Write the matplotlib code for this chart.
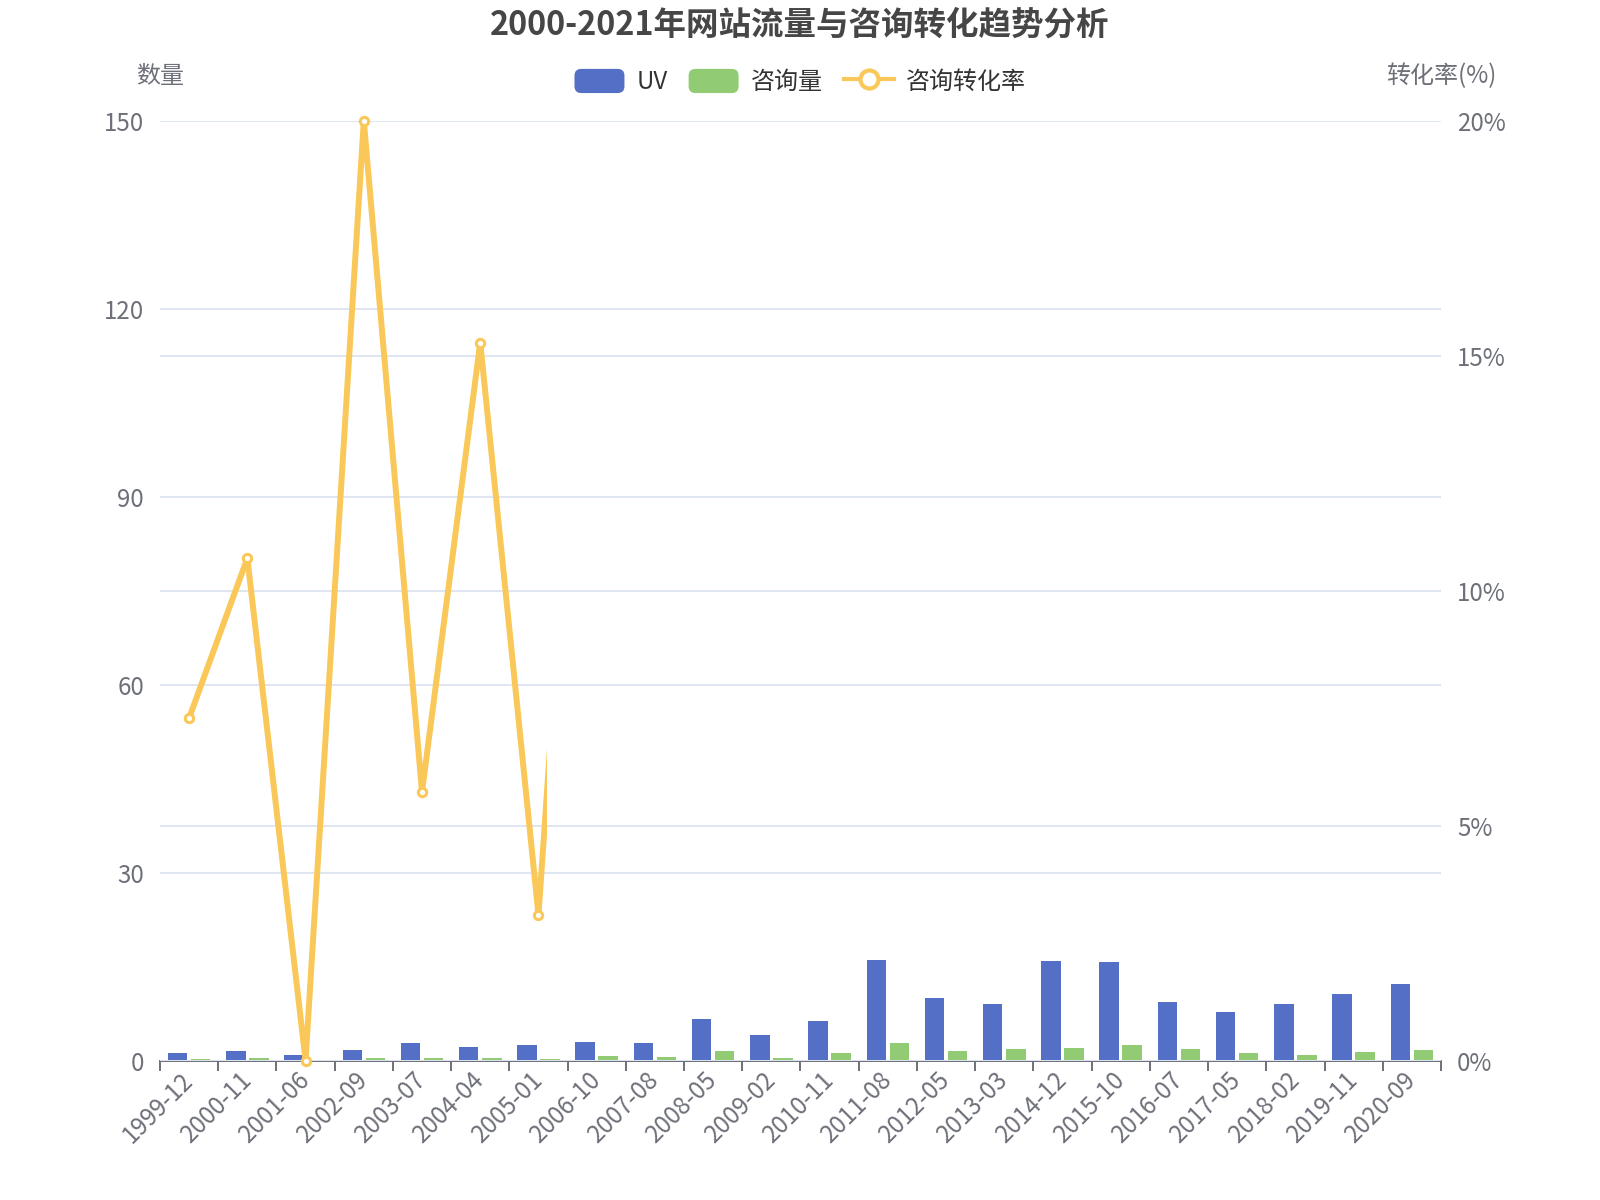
import matplotlib
matplotlib.use("Agg")
import matplotlib.pyplot as plt
import numpy as np
from matplotlib.patches import Patch, FancyBboxPatch, Rectangle
from matplotlib.lines import Line2D
from matplotlib.legend_handler import HandlerPatch
from matplotlib.transforms import blended_transform_factory

plt.rcParams['font.family'] = ['Noto Sans CJK SC', 'DejaVu Sans']

# ---------------- data ----------------
categories = ["1999-12", "2000-11", "2001-06", "2002-09", "2003-07", "2004-04",
              "2005-01", "2006-10", "2007-08", "2008-05", "2009-02", "2010-11",
              "2011-08", "2012-05", "2013-03", "2014-12", "2015-10", "2016-07",
              "2017-05", "2018-02", "2019-11", "2020-09"]
uv = [1.17, 1.55, 0.91, 1.65, 2.77, 2.13, 2.55, 2.93, 2.9, 6.6, 4.15, 6.33,
      16.07, 9.95, 9.05, 15.9, 15.75, 9.3, 7.82, 9.05, 10.64, 12.29]
consult = [0.22, 0.43, 0.0, 0.48, 0.38, 0.48, 0.27, 0.8, 0.59, 1.5, 0.48, 1.28,
           2.77, 1.6, 1.87, 1.97, 2.45, 1.87, 1.23, 0.91, 1.39, 1.71]
# conversion rate (%) - only the part drawn in the reference (line animation captured mid-way)
rate = [7.29, 10.69, 0.0, 20.0, 5.72, 15.28, 3.1, 21.0]
rate_reveal = 6.145   # category position where the drawn line stops

left_ticks = [0, 30, 60, 90, 120, 150]
right_ticks = [0, 5, 10, 15, 20]

title = "2000-2021年网站流量与咨询转化趋势分析"
series_names = ["UV", "咨询量", "咨询转化率"]
left_name = "数量"
right_name = "转化率(%)"

# ---------------- style ----------------
C_UV = "#5470C6"
C_CON = "#91CC75"
C_RATE = "#FAC858"
C_AXIS = "#6E7079"
C_GRID = "#E0E6F1"
C_TITLE = "#464646"
FS = 17.3

fig = plt.figure(figsize=(16, 12), dpi=100)
ax = fig.add_axes([0.1, 0.1161, 0.8006, 0.7833])
ax2 = ax.twinx()

x = np.arange(len(categories))
ax.bar(x - 0.198, uv, width=0.335, color=C_UV, zorder=2)
ax.bar(x + 0.198, consult, width=0.335, color=C_CON, zorder=2)

ax.set_xlim(-0.5, len(categories) - 0.5)
ax.set_ylim(0, 150)
ax2.set_ylim(0, 20)

# grid
ax.set_yticks(left_ticks)
ax.yaxis.grid(True, color=C_GRID, lw=1.4)
ax.set_axisbelow(True)
ax2.set_yticks(right_ticks)
ax2.set_yticklabels([f"{t}%" for t in right_ticks])
ax2.yaxis.grid(True, color=C_GRID, lw=1.4, zorder=0)
ax2.set_axisbelow(True)

# line
xr = np.arange(len(rate))
ln, = ax2.plot(xr, rate, color=C_RATE, lw=4.3, marker='o', ms=6, mfc='white',
               mec=C_RATE, mew=2.2, zorder=5, solid_joinstyle='round')
clip = Rectangle((-0.5, -0.1), rate_reveal + 0.5, 1.2,
                 transform=blended_transform_factory(ax2.transData, ax2.transAxes))
ln.set_clip_path(clip)

# spines
for s in ["top", "left", "right"]:
    ax.spines[s].set_visible(False)
for s in ["top", "left", "right", "bottom"]:
    ax2.spines[s].set_visible(False)
ax.spines["bottom"].set_color(C_AXIS)
ax.spines["bottom"].set_linewidth(1.4)
ax.spines["bottom"].set_zorder(3)

# x ticks: boundary ticks + centered labels
ax.set_xticks(np.arange(len(categories) + 1) - 0.5)
ax.set_xticklabels([])
ax.set_xticks(x, minor=True)
ax.set_xticklabels(categories, minor=True)
ax.tick_params(axis='x', which='major', direction='out', length=7.2, width=1.4, color=C_AXIS)
ax.tick_params(axis='x', which='minor', length=0, pad=11.5, labelsize=FS, labelcolor=C_AXIS)
plt.setp(ax.get_xticklabels(minor=True), rotation=45, ha='right', va='center',
         rotation_mode='anchor')

ax.tick_params(axis='y', length=0, pad=11.5, labelsize=FS, labelcolor=C_AXIS)
ax2.tick_params(axis='y', length=0, pad=11.5, labelsize=FS, labelcolor=C_AXIS)

# axis names
ax.text(0.0, 1.0476, left_name, transform=ax.transAxes, ha='center', va='center',
        fontsize=FS, color=C_AXIS)
ax.text(1.0, 1.0476, right_name, transform=ax.transAxes, ha='center', va='center',
        fontsize=FS, color=C_AXIS)

# title
fig.text(0.5, 1 - 25 / 1200, title, ha='center', va='center', fontsize=23.4,
         fontweight='bold', color=C_TITLE)


# legend
class RoundHandler(HandlerPatch):
    def create_artists(self, legend, orig_handle, xdescent, ydescent, width, height,
                       fontsize, trans):
        p = FancyBboxPatch((-xdescent, -ydescent), width, height,
                           boxstyle="round,pad=0,rounding_size=%f" % (height * 0.28),
                           facecolor=orig_handle.get_facecolor(), edgecolor='none',
                           transform=trans)
        return [p]


handles = [Patch(facecolor=C_UV), Patch(facecolor=C_CON),
           Line2D([], [], color=C_RATE, lw=3, marker='o', ms=13, mfc='white',
                  mec=C_RATE, mew=3)]
fig.legend(handles, series_names, loc='center', bbox_to_anchor=(0.5, 1 - 82 / 1200),
           ncol=3, frameon=False, fontsize=FS, handlelength=2.08, handleheight=1.17,
           handletextpad=0.5, columnspacing=0.87, borderpad=0,
           handler_map={Patch: RoundHandler()}, labelcolor='#333333')

fig.savefig("out.png", dpi=100)
